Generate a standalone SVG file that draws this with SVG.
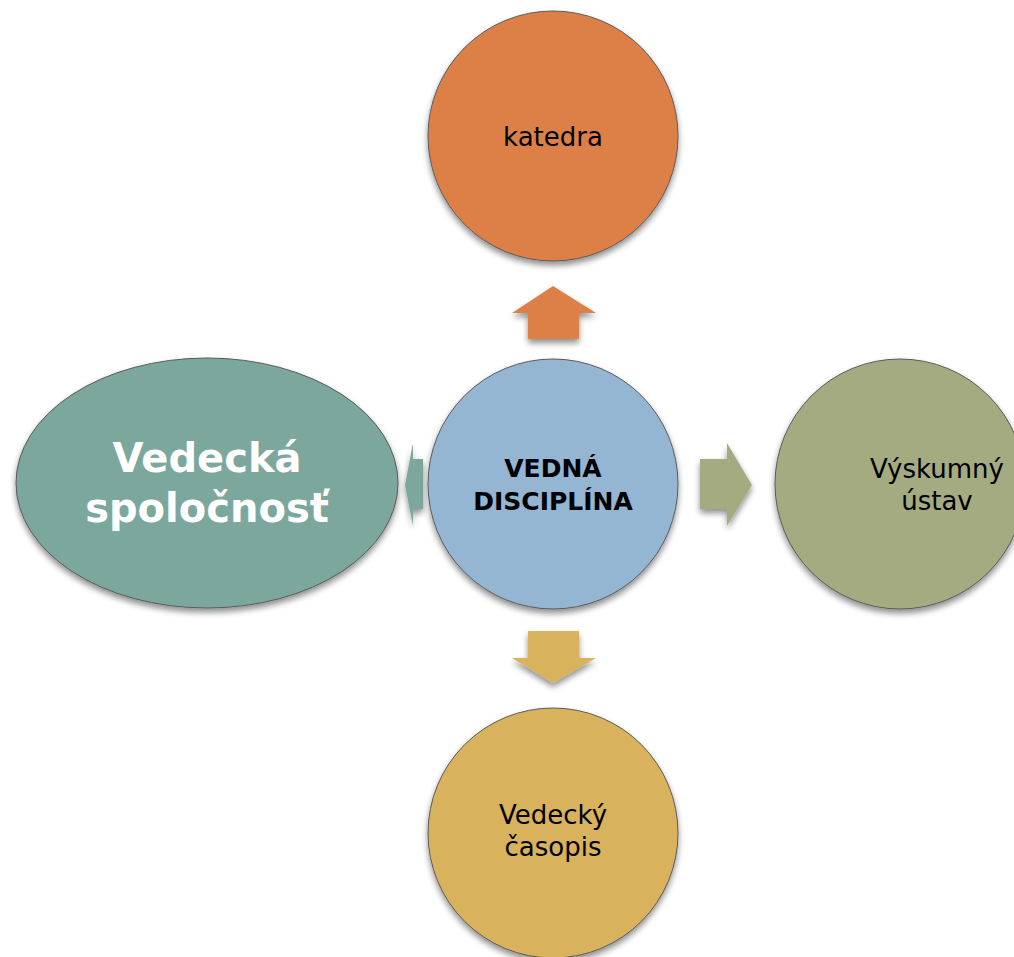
<svg xmlns="http://www.w3.org/2000/svg" width="1014" height="957" viewBox="0 0 1014 957">
<defs>
<filter id="sh" x="-20%" y="-20%" width="140%" height="140%">
<feGaussianBlur in="SourceAlpha" stdDeviation="3"/>
<feOffset dx="0" dy="4" result="b"/>
<feComponentTransfer><feFuncA type="linear" slope="0.45"/></feComponentTransfer>
<feMerge><feMergeNode/><feMergeNode in="SourceGraphic"/></feMerge>
</filter>
<style>
.n{stroke:#5a5a5a;stroke-width:1;filter:url(#sh)}
.a{filter:url(#sh)}
.t{font-family:"DejaVu Sans","Open Sans",sans-serif;font-size:26px;fill:#000;text-anchor:middle}
.b{font-family:"DejaVu Sans","Open Sans",sans-serif;font-weight:bold;font-size:25px;fill:#000;text-anchor:middle}
.w{font-family:"DejaVu Sans","Open Sans",sans-serif;font-weight:bold;font-size:40px;fill:#fff;text-anchor:middle}
</style>
</defs>
<rect width="1014" height="957" fill="#fff"/>
<g id="connectors">
<polygon class="a" fill="#DD8047" points="553,286 596,313 579,313 579,339 528,339 528,313 512,313"/>
<polygon class="a" fill="#A5AB81" points="752,485 727,443 727,459 700,459 700,509 727,509 727,526"/>
<polygon class="a" fill="#D8B25C" points="553,683 596,658 579,658 579,631 528,631 528,658 512,658"/>
<polygon class="a" fill="#7BA79D" points="405,485 413,443 413,459 423,459 423,509 413,509 413,526"/>
</g>
<g id="katedra">
<circle class="n" cx="553" cy="136" r="125" fill="#DD8047"/>
<text class="t" x="553" y="146">katedra</text>
</g>
<g id="vedna-disciplina">
<circle class="n" cx="553" cy="484" r="125" fill="#94B6D2"/>
<text class="b" x="553" y="477">VEDNÁ</text>
<text class="b" x="553" y="510">DISCIPLÍNA</text>
</g>
<g id="vyskumny-ustav">
<circle class="n" cx="900" cy="484" r="125" fill="#A5AB81"/>
<text class="t" x="937" y="478">Výskumný</text>
<text class="t" x="937" y="510">ústav</text>
</g>
<g id="vedecky-casopis">
<circle class="n" cx="553" cy="833" r="125" fill="#D8B25C"/>
<text class="t" x="553" y="824">Vedecký</text>
<text class="t" x="553" y="856">časopis</text>
</g>
<g id="vedecka-spolocnost">
<ellipse class="n" cx="207" cy="483" rx="191" ry="125" fill="#7BA79D"/>
<text class="w" x="207" y="472">Vedecká</text>
<text class="w" x="207" y="522">spoločnosť</text>
</g>
</svg>
